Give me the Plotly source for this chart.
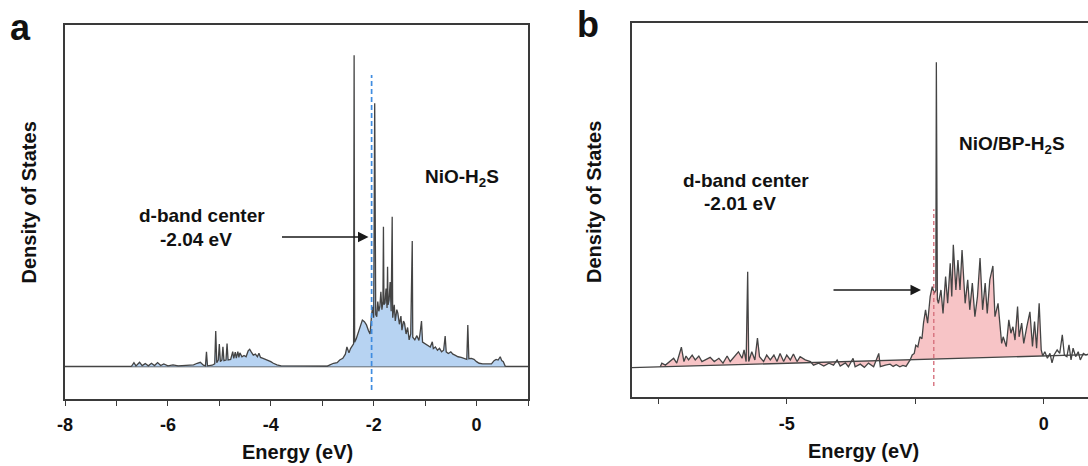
import plotly.graph_objects as go

W, H = 1088, 466

# ---------------- data: panel a (NiO-H2S) ----------------
energy_a = [
    -6.71, -6.66, -6.62, -6.55, -6.50, -6.44, -6.38, -6.32, -6.26, -6.20, -6.14, -6.08, -6.00,
    -5.90, -5.80, -5.70, -5.60, -5.50, -5.43, -5.37, -5.31, -5.27, -5.25, -5.23, -5.14, -5.09,
    -5.07, -5.05, -5.02, -5.00, -4.98, -4.95, -4.93, -4.91, -4.87, -4.85, -4.83, -4.78, -4.74,
    -4.72, -4.69, -4.67, -4.64, -4.62, -4.60, -4.56, -4.52, -4.48, -4.44, -4.41, -4.38, -4.34,
    -4.30, -4.26, -4.23, -4.20, -4.15, -4.10, -4.05, -4.00, -3.95, -3.88, -3.80, -3.50, -3.20,
    -2.90, -2.85, -2.78, -2.71, -2.66, -2.60, -2.55, -2.52, -2.48, -2.45, -2.42, -2.39, -2.38,
    -2.37, -2.34, -2.30, -2.26, -2.22, -2.18, -2.14, -2.10, -2.07, -2.04, -2.02, -2.00, -1.98,
    -1.96, -1.94, -1.92, -1.90, -1.88, -1.86, -1.84, -1.82, -1.81, -1.80, -1.78, -1.76, -1.74,
    -1.73, -1.72, -1.70, -1.68, -1.66, -1.64, -1.63, -1.60, -1.58, -1.55, -1.53, -1.50, -1.47,
    -1.45, -1.42, -1.40, -1.37, -1.34, -1.31, -1.28, -1.25, -1.24, -1.20, -1.16, -1.12, -1.10,
    -1.07, -1.05, -1.00, -0.95, -0.90, -0.86, -0.84, -0.80, -0.76, -0.72, -0.68, -0.64, -0.61,
    -0.59, -0.55, -0.50, -0.46, -0.42, -0.36, -0.30, -0.24, -0.19, -0.17, -0.15, -0.10, -0.05,
    0.00, 0.05, 0.12, 0.20, 0.29, 0.34, 0.38, 0.42, 0.46, 0.49, 0.52, 0.56,
]
dos_a = [
    0.00, 0.12, 0.02, 0.13, 0.03, 0.09, 0.02, 0.10, 0.03, 0.12, 0.03, 0.08, 0.02,
    0.05, 0.02, 0.03, 0.02, 0.05, 0.10, 0.13, 0.04, 0.02, 0.45, 0.02, 0.04, 0.08,
    1.09, 0.12, 0.20, 0.69, 0.15, 0.20, 0.61, 0.18, 0.20, 0.71, 0.20, 0.22, 0.46,
    0.25, 0.44, 0.26, 0.46, 0.28, 0.42, 0.30, 0.34, 0.30, 0.48, 0.53, 0.45, 0.35,
    0.38, 0.30, 0.41, 0.28, 0.25, 0.22, 0.17, 0.15, 0.10, 0.05, 0.02, 0.01, 0.00,
    0.01, 0.05, 0.10, 0.12, 0.20, 0.25, 0.38, 0.60, 0.42, 0.55, 0.62, 0.70, 9.58,
    0.75, 0.85, 1.05, 1.30, 1.43, 1.38, 1.28, 1.10, 1.00, 1.60, 1.84, 1.50, 8.10,
    1.60, 1.53, 2.00, 1.70, 1.84, 2.30, 1.75, 2.00, 4.30, 1.90, 1.95, 2.40, 1.80,
    3.07, 1.90, 2.05, 2.60, 1.70, 4.61, 1.50, 1.90, 1.40, 1.75, 1.64, 1.30, 1.55,
    1.12, 1.40, 1.33, 1.00, 1.20, 0.82, 1.00, 3.86, 0.90, 0.82, 0.95, 0.80, 1.00,
    1.40, 0.75, 0.70, 0.65, 0.60, 0.76, 0.55, 0.60, 0.50, 0.56, 0.45, 0.50, 0.94,
    0.45, 0.40, 0.45, 0.38, 0.35, 0.30, 0.28, 0.25, 0.22, 1.28, 0.24, 0.25, 0.22,
    0.15, 0.10, 0.08, 0.08, 0.08, 0.18, 0.22, 0.20, 0.30, 0.18, 0.15, 0.00,
]
zero_a_x = [-8.0, 1.0]
zero_a_y = [0.0, 0.0]
dband_a_x = [-2.04, -2.04]
dband_a_y = [-0.72, 8.97]

# ---------------- data: panel b (NiO/BP-H2S) ----------------
energy_b_filled = [
    -7.46, -7.43, -7.36, -7.27, -7.20, -7.14, -7.05, -7.00, -6.96, -6.91, -6.84, -6.78, -6.71,
    -6.65, -6.59, -6.49, -6.41, -6.32, -6.24, -6.16, -6.10, -6.00, -5.94, -5.87, -5.83, -5.79,
    -5.76, -5.74, -5.68, -5.62, -5.57, -5.53, -5.45, -5.39, -5.32, -5.25, -5.19, -5.13, -5.06,
    -5.00, -4.93, -4.87, -4.80, -4.74, -4.64, -4.54, -4.48, -4.38, -4.28, -4.18, -4.09, -4.02,
    -3.96, -3.86, -3.80, -3.71, -3.67, -3.57, -3.49, -3.41, -3.31, -3.21, -3.18, -3.08, -2.99,
    -2.93, -2.87, -2.80, -2.74, -2.68, -2.62, -2.60, -2.56, -2.52, -2.49, -2.45, -2.41, -2.37,
    -2.34, -2.30, -2.26, -2.21, -2.17, -2.13, -2.10, -2.09, -2.07, -2.05, -2.00, -1.96, -1.91,
    -1.87, -1.82, -1.79, -1.76, -1.71, -1.67, -1.63, -1.59, -1.53, -1.48, -1.44, -1.39, -1.34,
    -1.29, -1.24, -1.19, -1.14, -1.10, -1.05, -0.99, -0.95, -0.89, -0.82, -0.79, -0.73, -0.68,
    -0.64, -0.60, -0.56, -0.51, -0.48, -0.43, -0.39, -0.33, -0.27, -0.22, -0.18, -0.14, -0.09,
    -0.05, -0.02,
]
dos_b_filled = [
    -0.06, 0.05, -0.01, 0.10, 0.20, 0.05, 0.54, 0.10, 0.27, 0.15, 0.30, 0.15, 0.27,
    0.10, 0.15, 0.23, 0.10, 0.20, 0.05, 0.27, 0.10, 0.30, 0.40, 0.20, 0.46, 0.10,
    2.86, 0.10, 0.40, 0.15, 0.82, 0.25, 0.10, 0.30, 0.15, 0.30, 0.10, 0.35, 0.10,
    0.30, 0.15, 0.33, 0.10, 0.25, 0.15, 0.10, -0.01, 0.05, -0.04, 0.05, -0.01, 0.15,
    -0.04, 0.06, -0.06, 0.20, -0.06, 0.02, -0.08, 0.05, -0.06, 0.35, -0.06, -0.01, 0.02,
    -0.05, 0.00, -0.06, -0.02, -0.05, 0.10, 0.15, 0.30, 0.35, 0.60, 0.55, 0.86, 0.80,
    1.28, 1.69, 1.28, 2.10, 2.40, 2.20, 2.30, 9.30, 2.00, 1.89, 2.30, 1.58, 2.71,
    1.89, 3.12, 2.10, 3.69, 2.30, 3.22, 2.30, 3.53, 1.89, 2.61, 1.69, 2.51, 1.48,
    2.10, 3.28, 1.69, 2.51, 1.58, 2.61, 3.04, 1.48, 1.89, 0.66, 0.86, 0.56, 1.38,
    0.97, 1.17, 0.76, 1.79, 0.86, 1.28, 0.66, 1.17, 1.63, 0.56, 1.33, 0.51, 1.89,
    0.46, 0.27,
]
energy_b_tail = [-0.02, 0.02, 0.07, 0.12, 0.16, 0.20, 0.26, 0.31, 0.36, 0.40, 0.45, 0.49,
                 0.53, 0.57, 0.62, 0.67, 0.71, 0.77, 0.82, 0.86]
dos_b_tail = [0.27, 0.40, 0.20, 0.35, 0.06, 0.30, 0.46, 0.35, 0.92, 0.30, 0.25, 0.61,
              0.15, 0.51, 0.25, 0.40, 0.15, 0.35, 0.30, 0.33]
baseline_b_x = [-8.02, 0.86]
baseline_b_y = [-0.09, 0.31]
dband_b_x = [-2.14, -2.14]
dband_b_y = [-0.65, 4.78]

ticks_a = [-8, -7, -6, -5, -4, -3, -2, -1, 0, 1]
ticktext_a = ["-8", "", "-6", "", "-4", "", "-2", "", "0", ""]
ticks_b = [-7.5, -5, -2.5, 0]
ticktext_b = ["", "-5", "", "0"]

# ---------------- styling ----------------
FONT = "Liberation Sans, Arial, Helvetica, sans-serif"
AX = "#3a3a3a"
LINE = "#444444"
BLUE_FILL = "#b7d3f2"
PINK_FILL = "#f7c4c6"

fig = go.Figure()

# panel a
fig.add_trace(go.Scatter(x=zero_a_x, y=zero_a_y, mode="lines",
                         line=dict(color=LINE, width=1.3), xaxis="x", yaxis="y", hoverinfo="skip"))
fig.add_trace(go.Scatter(x=energy_a, y=dos_a, mode="lines", fill="tozeroy", fillcolor=BLUE_FILL,
                         line=dict(color=LINE, width=1.3), xaxis="x", yaxis="y"))
fig.add_trace(go.Scatter(x=dband_a_x, y=dband_a_y, mode="lines",
                         line=dict(color="#3f8de0", width=1.7, dash="5px,3px"), xaxis="x", yaxis="y"))

# panel b
fig.add_trace(go.Scatter(x=baseline_b_x, y=baseline_b_y, mode="lines",
                         line=dict(color=LINE, width=1.3), xaxis="x2", yaxis="y2", hoverinfo="skip"))
fig.add_trace(go.Scatter(x=energy_b_filled, y=dos_b_filled, mode="lines", fill="tonexty",
                         fillcolor=PINK_FILL, line=dict(color=LINE, width=1.3),
                         xaxis="x2", yaxis="y2"))
fig.add_trace(go.Scatter(x=energy_b_tail, y=dos_b_tail, mode="lines",
                         line=dict(color=LINE, width=1.3), xaxis="x2", yaxis="y2"))
fig.add_trace(go.Scatter(x=dband_b_x, y=dband_b_y, mode="lines",
                         line=dict(color="#d6707c", width=1.4, dash="4px,3px"), xaxis="x2", yaxis="y2"))

tickfont = dict(family=FONT, size=18, color="#111111", weight="bold")
common_x = dict(showline=True, linecolor=AX, linewidth=1.5, mirror=True, ticks="outside",
                ticklen=5, tickwidth=1.3, tickcolor=AX, tickfont=tickfont, showgrid=False,
                zeroline=False, fixedrange=True, ticklabelstandoff=4, automargin=False)
common_y = dict(showline=True, linecolor=AX, linewidth=1.5, ticks="", showticklabels=False,
                showgrid=False, zeroline=False, fixedrange=True, automargin=False)

fig.update_layout(
    width=W, height=H, margin=dict(l=0, r=0, t=0, b=0),
    paper_bgcolor="white", plot_bgcolor="white", showlegend=False,
    xaxis=dict(common_x, domain=[65 / W, 528 / W], range=[-8, 1], anchor="y",
               tickmode="array", tickvals=ticks_a, ticktext=ticktext_a),
    yaxis=dict(common_y, domain=[(H - 399) / H, (H - 25) / H], range=[-1, 10.51],
               anchor="x", mirror=True),
    xaxis2=dict(common_x, domain=[631.5 / W, 1.0], range=[-8.02, 0.86], anchor="y2",
                tickmode="array", tickvals=ticks_b, ticktext=ticktext_b),
    yaxis2=dict(common_y, domain=[(H - 397.3) / H, (H - 22.7) / H], range=[-1, 10.52],
                anchor="x2", mirror=False),
)


def px(x):
    return x / W


def py(y):
    return 1 - y / H


def label(text, x, y, size=19, angle=0, xanchor="center"):
    fig.add_annotation(text=text, x=px(x), y=py(y), xref="paper", yref="paper",
                       showarrow=False, textangle=angle, xanchor=xanchor, yanchor="middle",
                       font=dict(family=FONT, size=size, color="#111111", weight="bold"))


# panel letters
label("a", 20.5, 28, size=36)
label("b", 588, 25, size=36)
# axis titles
label("Density of States", 28.5, 203, size=20, angle=-90)
label("Density of States", 594, 202, size=20, angle=-90)
label("Energy (eV)", 297, 452, size=20)
label("Energy (eV)", 863, 451, size=20)
# in-plot labels
label("d-band center", 201.5, 215, size=19)
label("-2.04 eV", 195.5, 239, size=19)
label("NiO-H<sub>2</sub>S", 462, 178, size=19)
label("d-band center", 745.5, 180, size=19)
label("-2.01 eV", 740, 204, size=19)
label("NiO/BP-H<sub>2</sub>S", 1012, 145, size=19)

# arrows (tail offset given in pixels relative to the tip)
for tip, tail in [((368.5, 237), (280.5, 237)), ((921, 290), (832, 290))]:
    fig.add_annotation(text="", x=px(tip[0]), y=py(tip[1]), xref="paper", yref="paper",
                       ax=tail[0] - tip[0], ay=tail[1] - tip[1], axref="pixel", ayref="pixel",
                       showarrow=True, arrowhead=2, arrowsize=1.4, arrowwidth=1.5,
                       arrowcolor="#1a1a1a", standoff=0, startstandoff=0)

fig.write_html("out.html")
